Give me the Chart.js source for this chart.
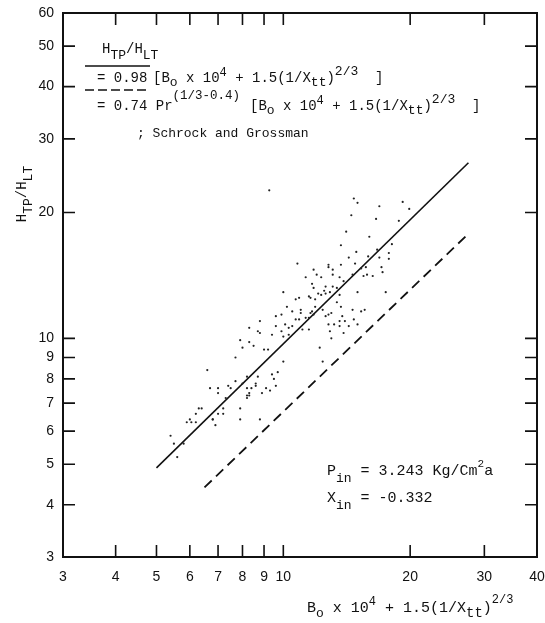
<!DOCTYPE html>
<html>
<head>
<meta charset="utf-8">
<script src="https://cdn.jsdelivr.net/npm/chart.js@4.4.1/dist/chart.umd.min.js"></script>
<style>
  html, body { margin: 0; padding: 0; background: #fff; }
  #wrap { width: 545px; height: 623px; position: relative; }
</style>
</head>
<body>
<div id="wrap"><canvas id="htpChart"></canvas></div>
<script>
/* H_TP/H_LT versus Bo x 10^4 + 1.5(1/Xtt)^(2/3), log-log */
(function () {
  'use strict';

  var xTicks = [3, 4, 5, 6, 7, 8, 9, 10, 20, 30, 40];
  var yTicks = [3, 4, 5, 6, 7, 8, 9, 10, 20, 30, 40, 50, 60];

  // measured points
  var pointX = [
    9.26, 14.7, 15.0, 19.2, 19.9, 16.9, 14.5, 16.6, 18.8, 14.1,
    16.0, 18.1, 13.7, 16.7, 14.9, 17.8, 14.3, 15.9, 16.9, 17.8,
    10.8, 12.8, 13.7, 14.8, 12.8, 11.8, 13.1, 15.3, 15.7, 17.1,
    17.2, 12.0, 13.1, 14.6, 15.5, 15.8, 16.3, 11.3, 12.3, 13.6,
    13.9, 11.7, 11.8, 12.6, 13.1, 13.4, 12.5, 12.9, 12.6, 12.1,
    12.3, 13.6, 15.0, 17.5, 10.0, 11.5, 11.6, 10.7, 10.9, 11.9,
    13.4, 10.2, 11.9, 12.4, 13.7, 14.6, 15.3, 15.6, 10.5, 11.0,
    11.0, 11.7, 11.8, 9.6, 9.9, 11.5, 11.6, 12.8, 13.0, 10.7,
    11.3, 10.9, 12.6, 13.8, 14.7, 8.8, 10.1, 10.5, 12.8, 13.2,
    13.6, 14.0, 15.0, 8.3, 9.6, 10.3, 11.1, 11.5, 13.6, 14.3,
    8.7, 8.8, 9.9, 12.9, 13.9, 9.4, 10.0, 13.0, 10.3, 7.9,
    8.3, 8.0, 8.5, 9.0, 9.2, 12.2, 7.7, 10.0, 12.4, 6.6,
    9.4, 9.7, 8.2, 8.7, 9.5, 7.7, 7.4, 7.5, 8.0, 8.6,
    8.6, 9.6, 6.7, 7.0, 9.1, 8.2, 8.4, 9.3, 8.3, 7.0,
    8.2, 8.3, 7.3, 8.9, 8.2, 7.9, 8.8, 7.0, 7.2, 6.9,
    6.8, 6.3, 6.4, 6.2, 6.0, 6.05, 5.9, 6.2, 6.8, 5.4,
    5.5, 5.8, 5.6, 7.2, 7.9
  ];
  var pointY = [
    22.6, 21.6, 21.1, 21.2, 20.4, 20.7, 19.7, 19.3, 19.1, 18.0,
    17.5, 16.8, 16.7, 16.3, 16.1, 16.0, 15.6, 15.7, 15.6, 15.5,
    15.1, 15.0, 15.0, 15.1, 14.8, 14.6, 14.6, 14.7, 14.8, 14.8,
    14.4, 14.2, 14.2, 14.2, 14.1, 14.2, 14.1, 14.0, 14.0, 14.0,
    13.7, 13.5, 13.2, 13.3, 13.3, 13.2, 13.0, 12.9, 12.8, 12.8,
    12.7, 12.7, 12.9, 12.9, 12.9, 12.6, 12.5, 12.4, 12.5, 12.4,
    12.2, 11.9, 11.9, 11.7, 11.9, 11.7, 11.6, 11.7, 11.6, 11.7,
    11.5, 11.6, 11.4, 11.3, 11.4, 11.2, 11.5, 11.4, 11.5, 11.1,
    11.2, 11.1, 11.3, 11.3, 11.1, 11.0, 10.8, 10.7, 10.8, 10.8,
    11.0, 11.0, 10.8, 10.6, 10.7, 10.6, 10.5, 10.5, 10.7, 10.7,
    10.4, 10.3, 10.4, 10.4, 10.3, 10.2, 10.1, 10.0, 10.2, 9.9,
    9.8, 9.5, 9.6, 9.4, 9.4, 9.5, 9.0, 8.8, 8.8, 8.4,
    8.2, 8.3, 8.1, 8.1, 8.0, 7.9, 7.7, 7.6, 7.8, 7.8,
    7.7, 7.7, 7.6, 7.6, 7.6, 7.6, 7.6, 7.5, 7.4, 7.4,
    7.3, 7.3, 7.2, 7.4, 7.2, 6.4, 6.4, 6.6, 6.6, 6.2,
    6.4, 6.8, 6.8, 6.6, 6.4, 6.3, 6.3, 6.3, 6.4, 5.85,
    5.6, 5.6, 5.2, 6.8, 6.8
  ];

  // correlation: 0.98 [Bo x 10^4 + 1.5(1/Xtt)^(2/3)]
  var fitX = [5, 27.5];
  var fitY = [4.9, 26.3];
  // Schrock and Grossman with the Pr correction
  var sgX = [6.5, 27.5];
  var sgY = [4.4, 17.8];

  var INK = '#111';
  var MONO = '"Liberation Mono", "DejaVu Sans Mono", monospace';
  var TICK = 12;

  function pairs(xs, ys) {
    return xs.map(function (x, i) { return { x: x, y: ys[i] }; });
  }

  function setTicks(list) {
    return function (scale) {
      scale.ticks = list.map(function (v) { return { value: v }; });
    };
  }

  // draws a line of typewriter text; each run is [text, size, dy]
  function drawRuns(ctx, x, y, runs, size) {
    runs.forEach(function (r) {
      var s = r[1] || size;
      ctx.font = s + 'px ' + MONO;
      ctx.fillText(r[0], x, y + (r[2] || 0));
      x += ctx.measureText(r[0]).width;
    });
    return x;
  }

  function runsWidth(ctx, runs, size) {
    var w = 0;
    runs.forEach(function (r) {
      ctx.font = (r[1] || size) + 'px ' + MONO;
      w += ctx.measureText(r[0]).width;
    });
    return w;
  }

  var framePlugin = {
    id: 'frame',
    afterDatasetsDraw: function (chart) {
      var ctx = chart.ctx, a = chart.chartArea;
      var xs = chart.scales.x, ys = chart.scales.y;
      ctx.save();
      ctx.strokeStyle = INK;
      ctx.lineWidth = 2;
      ctx.strokeRect(a.left, a.top, a.right - a.left, a.bottom - a.top);
      ctx.lineWidth = 1.6;
      ctx.beginPath();
      xTicks.forEach(function (v) {
        if (v === xs.min || v === xs.max) return;
        var px = xs.getPixelForValue(v);
        ctx.moveTo(px, a.bottom); ctx.lineTo(px, a.bottom - TICK);
        ctx.moveTo(px, a.top); ctx.lineTo(px, a.top + TICK);
      });
      yTicks.forEach(function (v) {
        if (v === ys.min || v === ys.max) return;
        var py = ys.getPixelForValue(v);
        ctx.moveTo(a.left, py); ctx.lineTo(a.left + TICK, py);
        ctx.moveTo(a.right, py); ctx.lineTo(a.right - TICK, py);
      });
      ctx.stroke();
      ctx.restore();
    }
  };

  var bracket = [
    ['[B'], ['o', 13, 4], [' x 10'], ['4', 12, -6], [' + 1.5(1/X'],
    ['tt', 13, 4], [')'], ['2/3', 13, -7], ['  ]']
  ];

  var notesPlugin = {
    id: 'notes',
    afterDraw: function (chart) {
      var ctx = chart.ctx;
      ctx.save();
      ctx.fillStyle = INK;
      ctx.strokeStyle = INK;
      ctx.textBaseline = 'alphabetic';
      ctx.textAlign = 'left';

      // key
      drawRuns(ctx, 102, 53, [['H'], ['TP', 13, 6], ['/H'], ['LT', 13, 6]], 14);
      ctx.lineWidth = 1.6;
      ctx.beginPath();
      ctx.moveTo(85, 66); ctx.lineTo(150, 66);
      ctx.stroke();
      drawRuns(ctx, 97, 82, [['= 0.98 ']], 14);
      drawRuns(ctx, 153, 82, bracket, 14);
      ctx.setLineDash([9, 4]);
      ctx.beginPath();
      ctx.moveTo(85, 90); ctx.lineTo(150, 90);
      ctx.stroke();
      ctx.setLineDash([]);
      drawRuns(ctx, 97, 110, [['= 0.74 Pr'], ['(1/3-0.4)', 12.5, -11]], 14);
      drawRuns(ctx, 250, 110, bracket, 14);
      drawRuns(ctx, 137, 137, [['; Schrock and Grossman']], 13);

      // run conditions
      drawRuns(ctx, 327, 475, [['P'], ['in', 13, 7], [' = 3.243 Kg/Cm'], ['2', 11, -8], ['a']], 15);
      drawRuns(ctx, 327, 502, [['X'], ['in', 13, 7], [' = -0.332']], 15);

      // axis titles
      drawRuns(ctx, 307, 612, [
        ['B'], ['o', 13, 5], [' x 10'], ['4', 12, -7], [' + 1.5(1/X'],
        ['tt', 14, 5], [')'], ['2/3', 12, -9]
      ], 15);
      var yTitle = [['H'], ['TP', 13, 6], ['/H'], ['LT', 13, 6]];
      var w = runsWidth(ctx, yTitle, 14);
      ctx.translate(26, 194);
      ctx.rotate(-Math.PI / 2);
      drawRuns(ctx, -w / 2, 0, yTitle, 14);
      ctx.restore();
    }
  };

  function axis(min, max, list, fit) {
    return {
      type: 'logarithmic',
      min: min,
      max: max,
      afterBuildTicks: setTicks(list),
      afterFit: fit,
      grid: { display: false, drawTicks: false },
      border: { display: false },
      ticks: {
        autoSkip: false,
        maxRotation: 0,
        color: INK,
        font: { family: 'Liberation Sans', size: 14 },
        callback: function (v) { return String(v); }
      }
    };
  }

  var xAxis = axis(3, 40, xTicks, function (s) {
    s.height = 66;
    s.paddingLeft = 0;
    s.paddingRight = 0;
  });
  xAxis.ticks.padding = 12;
  var yAxis = axis(3, 60, yTicks, function (s) {
    s.width = 63;
    s.paddingTop = 0;
    s.paddingBottom = 0;
  });
  yAxis.ticks.padding = 9;

  new Chart(document.getElementById('htpChart'), {
    type: 'scatter',
    data: {
      datasets: [
        {
          data: pairs(pointX, pointY),
          pointRadius: 1.1,
          pointBorderWidth: 0,
          pointBackgroundColor: '#222'
        },
        {
          data: pairs(fitX, fitY),
          showLine: true,
          pointRadius: 0,
          borderColor: INK,
          borderWidth: 1.6
        },
        {
          data: pairs(sgX, sgY),
          showLine: true,
          pointRadius: 0,
          borderColor: INK,
          borderWidth: 1.8,
          borderDash: [10, 6]
        }
      ]
    },
    options: {
      responsive: true,
      maintainAspectRatio: false,
      animation: false,
      layout: { padding: { top: 13, right: 8, left: 0, bottom: 0 } },
      plugins: { legend: { display: false }, tooltip: { enabled: false } },
      scales: { x: xAxis, y: yAxis }
    },
    plugins: [framePlugin, notesPlugin]
  });
})();
</script>
</body>
</html>
